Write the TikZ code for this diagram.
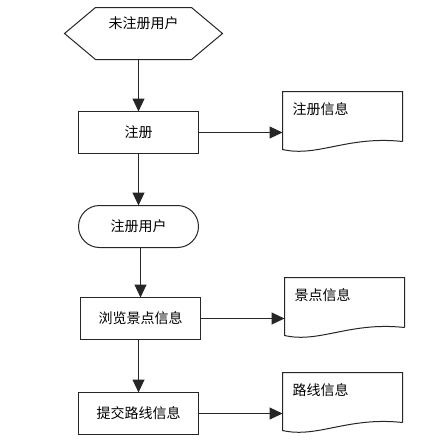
\documentclass[tikz,border=0pt]{standalone}
\usepackage{fontspec}
\setmainfont{Noto Sans CJK SC}
\usetikzlibrary{positioning,arrows.meta}
\tikzset{
  bordered/.style={align=center,draw,outer sep=0,inner sep=1,minimum width=120,minimum height=42},
  frame/.style={outer sep=0,inner sep=0,minimum width=96,minimum height=52,text height=12,text depth=22},
  doc/.style={outer sep=0,inner sep=0,minimum width=120,minimum height=50,text width=100,align=left,text height=12,text depth=17},
  flow/.style={-{Triangle[length=13pt,width=12pt]}}
}

\begin{document}
\begin{tikzpicture}[x=1pt,y=-1pt,line width=1pt,draw=black!85,
    every node/.style={font=\fontsize{14}{16}\selectfont}]
    \useasboundingbox (0,0) rectangle (439,442);
    \node [frame] (v0) at (143.5,33.5) {未注册用户};
    \node [bordered] (v1) at (138.5,132.5) {注册};
    \node [bordered,rounded corners=21] (v2) at (138.5,226.5) {注册用户};
    \node [bordered] (v3) at (140.5,318.5) {浏览景点信息};
    \node [bordered] (v4) at (138.5,413.5) {提交路线信息};
    \node [doc] (d1) at (342.5,116.5) {注册信息};
    \node [doc] (d2) at (344.5,302.5) {景点信息};
    \node [doc] (d3) at (342.5,397.5) {路线信息};

    % hexagon and documents
    \draw (v0.north west) -- (v0.north east) -- ([xshift=31]v0.east) -- (v0.south east)
      -- (v0.south west) -- ([xshift=-31]v0.west) -- cycle;
    \foreach \d in {d1,d2,d3}
      \draw (\d.south east) -- (\d.north east) -- (\d.north west) -- ([yshift=-8]\d.south west)
        .. controls ([xshift=35,yshift=-16]\d.south west) and ([xshift=-55,yshift=6]\d.south east) .. (\d.south east);

    \draw [flow] (v1.north |- v0.south) -- (v1);
    \draw [flow] (v1) -- (v1 -| d1.west);
    \draw [flow] (v1) -- (v2);
    \draw [flow] (v3.north |- v2.south) -- (v3);
    \draw [flow] (v3) -- (v3 -| d2.west);
    \draw [flow] (v4.north |- v3.south) -- (v4);
    \draw [flow] (v4) -- (v4 -| d3.west);
\end{tikzpicture}
\end{document}
